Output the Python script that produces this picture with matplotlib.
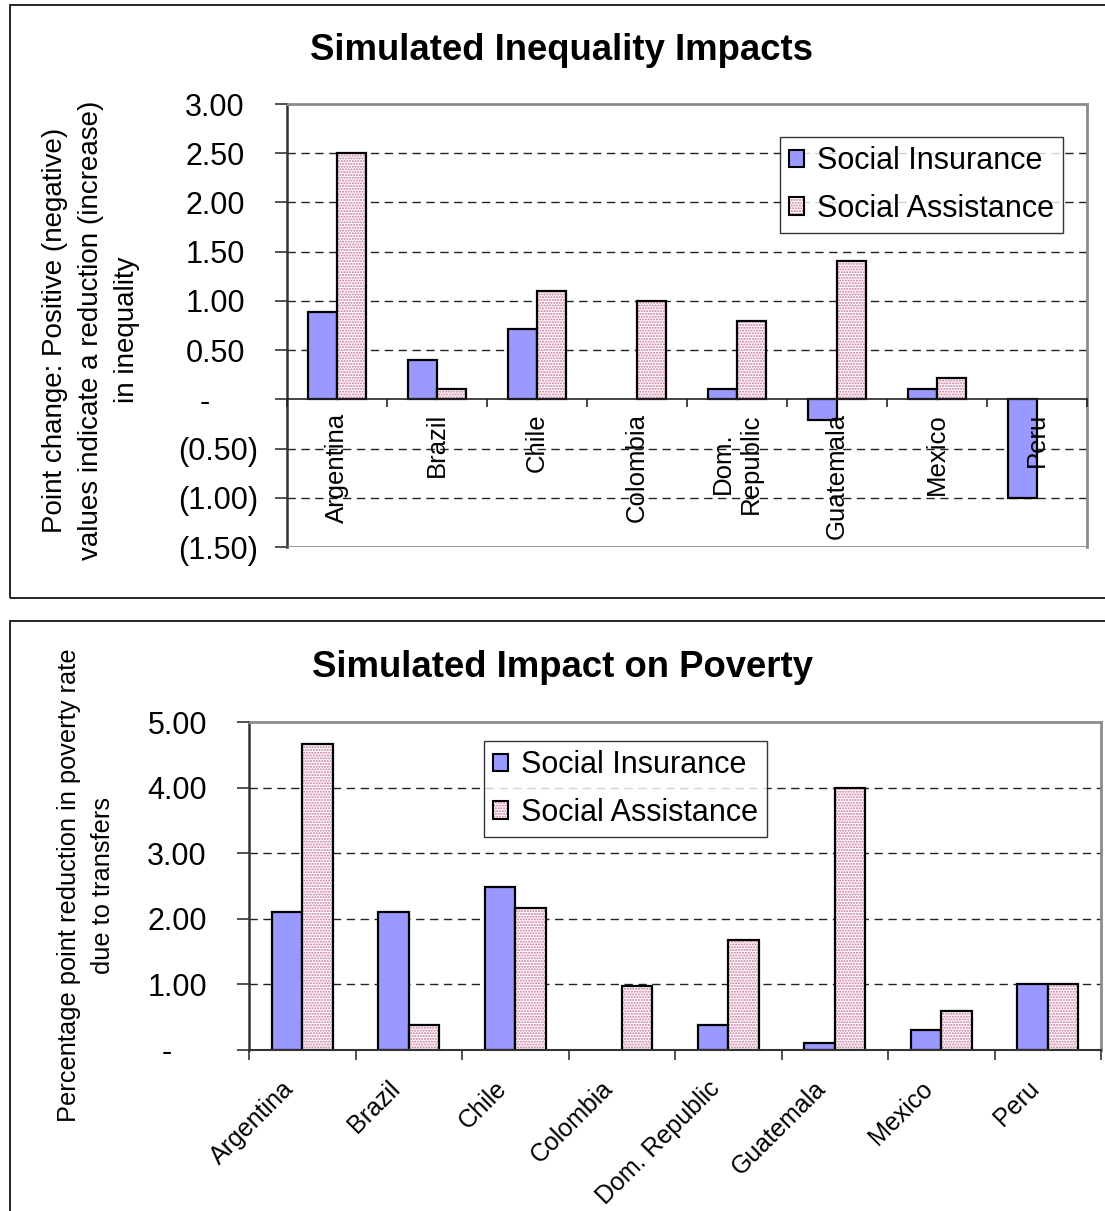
import numpy as np
import matplotlib
matplotlib.use("Agg")
import matplotlib.pyplot as plt
from matplotlib.patches import Patch, Rectangle
from matplotlib.legend_handler import HandlerTuple
from matplotlib.ticker import FuncFormatter, FixedLocator
from matplotlib.transforms import ScaledTranslation

plt.rcParams['font.family'] = ['Liberation Sans', 'DejaVu Sans']
plt.rcParams['hatch.linewidth'] = 1.0

# ---------------- data ----------------
countries_top = ["Argentina", "Brazil", "Chile", "Colombia", "Dom.\nRepublic",
                 "Guatemala", "Mexico", "Peru"]
countries_bot = ["Argentina", "Brazil", "Chile", "Colombia", "Dom. Republic",
                 "Guatemala", "Mexico", "Peru"]
series_names = ["Social Insurance", "Social Assistance"]

ineq_social_insurance = [0.89, 0.40, 0.71, 0.0, 0.10, -0.21, 0.10, -1.00]
ineq_social_assistance = [2.50, 0.10, 1.10, 1.00, 0.80, 1.41, 0.22, 0.0]

pov_social_insurance = [2.10, 2.10, 2.49, 0.0, 0.38, 0.10, 0.30, 1.00]
pov_social_assistance = [4.66, 0.38, 2.17, 0.98, 1.68, 4.00, 0.59, 1.00]

ineq_yticks = [3.0, 2.5, 2.0, 1.5, 1.0, 0.5, 0.0, -0.5, -1.0, -1.5]
pov_yticks = [5.0, 4.0, 3.0, 2.0, 1.0, 0.0]

# ---------------- style ----------------
SI_COLOR = "#9999ff"
DOT_COLOR = "#c8709a"
TICK_FS = 22
W, H = 1105, 1211
fig = plt.figure(figsize=(W / 100, H / 100), dpi=100)


def fmt(v, pos=None):
    # accounting style: zero as a dash, negatives in parentheses
    if abs(v) < 1e-9:
        return "-"
    if v < 0:
        return "({:.2f})".format(-v)
    return "{:.2f}".format(v)


def draw_bars(ax, si, sa, width):
    x = np.arange(len(si)) + 0.5
    si_h = np.array([np.nan if v == 0 else v for v in si])
    sa_h = np.array([np.nan if v == 0 else v for v in sa])
    ax.bar(x - width / 2, si_h, width, color=SI_COLOR, edgecolor="black",
           linewidth=1.6, zorder=2)
    ax.bar(x + width / 2, sa_h, width, color="white", edgecolor=DOT_COLOR,
           hatch="......", linewidth=0, zorder=2)
    ax.bar(x + width / 2, sa_h, width, fill=False, edgecolor="black",
           linewidth=1.6, zorder=2.1)


def legend(ax, loc):
    h1 = Patch(facecolor=SI_COLOR, edgecolor="black", linewidth=1.5)
    h2a = Patch(facecolor="white", edgecolor=DOT_COLOR, hatch="......", linewidth=0)
    h2b = Patch(fill=False, edgecolor="black", linewidth=1.5)
    lg = ax.legend([h1, (h2a, h2b)], series_names,
                   handler_map={tuple: HandlerTuple(ndivide=1, pad=0)},
                   loc="upper left", bbox_to_anchor=loc, frameon=True,
                   fancybox=False, shadow=False, fontsize=TICK_FS,
                   handlelength=0.5, handleheight=0.5, handletextpad=0.4,
                   borderpad=0.3, labelspacing=0.58, borderaxespad=0)
    lg.get_frame().set_edgecolor("black")
    lg.get_frame().set_linewidth(1.0)
    lg.set_zorder(5)


def style_axes(ax, yticks, grid_vals):
    for s in ["top", "right", "bottom"]:
        ax.spines[s].set_color("#8c8c8c")
        ax.spines[s].set_linewidth(2.0)
    ax.spines["left"].set_color("#333333")
    ax.spines["left"].set_linewidth(1.8)
    ax.yaxis.set_major_locator(FixedLocator(yticks))
    ax.yaxis.set_major_formatter(FuncFormatter(fmt))
    ax.tick_params(axis="y", direction="out", length=9, width=1.2,
                   labelsize=TICK_FS, pad=12, color="#333333")
    for g in grid_vals:
        ax.axhline(g, color="#222222", linestyle=(0, (6, 4)), linewidth=1.0,
                   zorder=0.5)
    ax.xaxis.set_zorder(3)
    ax.yaxis.set_zorder(3)


def align_accounting(ax, yticks):
    # positives leave room for ")" and the dash sits further left
    for tick, v in zip(ax.yaxis.get_major_ticks(), yticks):
        if abs(v) < 1e-9:
            dx = -48 / 100
        elif v > 0:
            dx = -13 / 100
        else:
            dx = 0
        lab = tick.label1
        lab.set_transform(lab.get_transform() +
                          ScaledTranslation(dx, 0, fig.dpi_scale_trans))


# ---------------- top chart ----------------
ax1 = fig.add_axes([287 / W, 1 - 547 / H, 800 / W, 443 / H])
draw_bars(ax1, ineq_social_insurance, ineq_social_assistance, 0.29)
ax1.set_xlim(0, 8)
ax1.set_ylim(-1.5, 3.0)
style_axes(ax1, ineq_yticks, [v for v in ineq_yticks if v not in (0.0, 3.0, -1.5)])
ax1.axhline(-1.5, color="#8c8c8c", linewidth=2.0, zorder=3)
ax1.spines["bottom"].set_position(("data", 0))
ax1.spines["bottom"].set_color("#222222")
ax1.spines["bottom"].set_linewidth(1.2)
ax1.spines["bottom"].set_zorder(2.5)
ax1.set_xticks(np.arange(0, 9))
ax1.set_xticklabels([])
ax1.set_xticks(np.arange(len(countries_top)) + 0.5, minor=True)
ax1.set_xticklabels(countries_top, minor=True, rotation=90, fontsize=18.5,
                    va="top", ha="center")
ax1.tick_params(axis="x", which="major", direction="out", length=6, width=1.2,
                color="#222222")
ax1.tick_params(axis="x", which="minor", length=0, pad=10)
legend(ax1, ((780 - 287) / 800, 1 - (137 - 104) / 443))

fig.text(562 / W, 1 - 51 / H, "Simulated Inequality Impacts", ha="center",
         va="center", fontsize=26.3, fontweight="bold")
fig.text(91 / W, 1 - 330 / H,
         "Point change: Positive (negative)\nvalues indicate a reduction (increase)\nin inequality",
         rotation=90, ha="center", va="center", fontsize=20, linespacing=1.5,
         multialignment="center")

# ---------------- bottom chart ----------------
ax2 = fig.add_axes([249 / W, 1 - 1050 / H, 852 / W, 328 / H])
draw_bars(ax2, pov_social_insurance, pov_social_assistance, 0.285)
ax2.set_xlim(0, 8)
ax2.set_ylim(0, 5)
style_axes(ax2, pov_yticks, [v for v in pov_yticks if v not in (0.0, 5.0)])
ax2.spines["bottom"].set_color("#333333")
ax2.spines["bottom"].set_linewidth(1.5)
ax2.set_xticks(np.arange(0, 9))
ax2.set_xticklabels([])
ax2.set_xticks(np.arange(len(countries_bot)) + 0.5, minor=True)
ax2.set_xticklabels(countries_bot, minor=True, rotation=45, fontsize=18,
                    ha="right", va="top", rotation_mode="anchor")
ax2.tick_params(axis="x", which="major", direction="out", length=7, width=1.2,
                color="#333333")
ax2.tick_params(axis="x", which="minor", length=0, pad=19)
legend(ax2, ((484 - 249) / 852, 1 - (741 - 722) / 328))

fig.text(562 / W, 1 - 667 / H, "Simulated Impact on Poverty", ha="center",
         va="center", fontsize=26.3, fontweight="bold")
fig.text(86 / W, 1 - 885 / H,
         "Percentage point reduction in poverty rate\ndue to transfers",
         rotation=90, ha="center", va="center", fontsize=18.3, linespacing=1.5,
         multialignment="center")

# shift the slanted labels a little to the left, as in the reference
for lab in ax2.get_xticklabels(minor=True):
    lab.set_transform(lab.get_transform() +
                      ScaledTranslation(-0.21, 0, fig.dpi_scale_trans))

align_accounting(ax1, ineq_yticks)
align_accounting(ax2, pov_yticks)

# ---------------- panel borders ----------------
fig.add_artist(Rectangle((10 / W, 1 - 598 / H), 1100 / W, 593 / H,
                         transform=fig.transFigure, fill=False,
                         edgecolor="black", linewidth=1.2))
fig.add_artist(Rectangle((10 / W, -0.01), 1100 / W, 1 - 621 / H + 0.01,
                         transform=fig.transFigure, fill=False,
                         edgecolor="black", linewidth=1.2))

fig.savefig("out.png", dpi=100, facecolor="white")
